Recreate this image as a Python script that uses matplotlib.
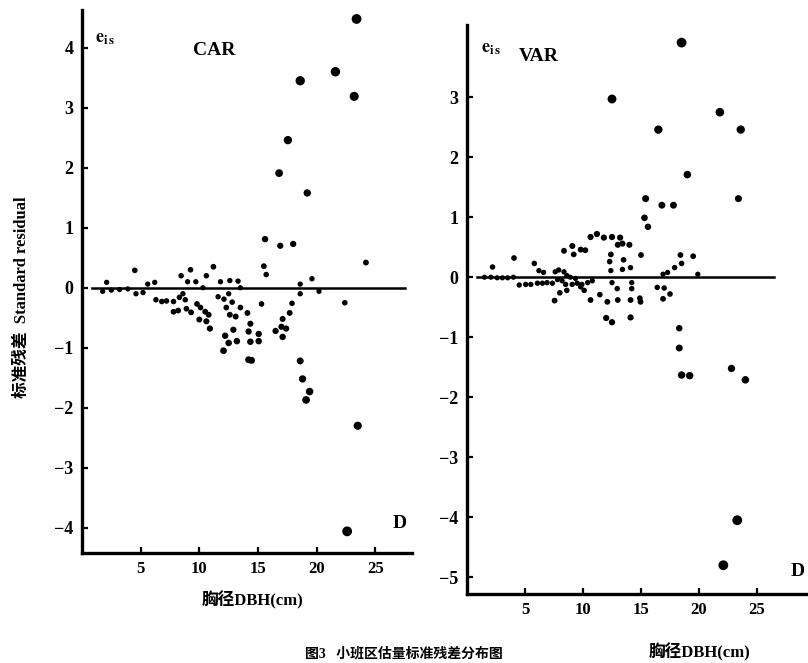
import numpy as np
import matplotlib
matplotlib.use("Agg")
import matplotlib.pyplot as plt

plt.rcParams["mathtext.fontset"] = "stix"

# CAR panel: DBH (cm) vs standard residual
car_x = [23.4, 21.6, 18.6, 23.2, 17.55, 16.8, 19.2, 15.6, 16.9, 18.0, 24.2, 15.5, 15.7,
         4.5, 11.2, 9.25, 8.45, 10.6, 19.6, 18.6, 2.1, 11.8, 12.6, 13.3, 13.5, 9.0, 9.7,
         10.3, 5.6, 6.2, 20.2, 18.6,
         1.76, 2.5, 3.2, 3.9, 4.6, 5.2,
         6.3, 6.8, 7.2, 7.8, 8.3, 8.6, 8.8,
         7.8, 8.2, 8.9, 9.3, 9.8, 10.1, 10.5, 10.8, 10.0, 10.6, 10.9,
         11.6, 12.1, 12.5, 12.8, 12.3, 12.6, 13.1, 13.5, 14.1,
         14.35, 14.2, 15.06, 12.9, 12.2, 12.5, 13.2, 14.35, 15.06, 12.06, 14.2, 14.45,
         15.3, 22.4, 17.9, 17.7, 17.1, 17.0, 17.4, 16.5, 17.1,
         18.6, 18.8, 19.4, 19.1, 23.5, 22.6]
car_y = [4.48, 3.6, 3.45, 3.19, 2.46, 1.91, 1.58, 0.81, 0.70, 0.73, 0.42, 0.36, 0.22,
         0.29, 0.35, 0.30, 0.20, 0.20, 0.15, 0.06, 0.09, 0.10, 0.12, 0.11, 0.0, 0.10, 0.10,
         0.0, 0.06, 0.09, -0.06, -0.10,
         -0.06, -0.04, -0.03, -0.02, -0.10, -0.08,
         -0.20, -0.23, -0.22, -0.23, -0.16, -0.10, -0.20,
         -0.40, -0.38, -0.35, -0.41, -0.27, -0.33, -0.40, -0.45, -0.53, -0.56, -0.68,
         -0.15, -0.19, -0.10, -0.24, -0.33, -0.45, -0.48, -0.33, -0.42,
         -0.60, -0.73, -0.77, -0.70, -0.80, -0.92, -0.89, -0.90, -0.89, -1.05, -1.20, -1.21,
         -0.27, -0.25, -0.26, -0.42, -0.52, -0.65, -0.68, -0.72, -0.82,
         -1.22, -1.52, -1.73, -1.87, -2.30, -4.06]

# VAR panel
var_x = [18.5, 12.5, 21.8, 16.5, 23.6, 19.0, 23.4, 15.4, 16.8, 17.8, 15.3, 15.6,
         8.36, 9.08, 9.2, 9.8, 10.2,
         10.65, 11.2, 11.8, 12.5, 13.2, 13.4, 14.0,
         12.4, 12.3, 13.5, 12.4, 13.4, 14.1, 15.0, 13.0,
         4.05, 2.2, 5.8,
         18.4, 19.5, 18.5, 17.9, 17.3, 16.9, 19.9,
         1.5, 2.05, 2.6, 3.05, 3.5, 4.0,
         4.5, 5.06, 5.5, 6.07, 6.5, 6.9, 7.36,
         6.2, 6.6,
         7.6, 7.9, 8.36, 8.6, 8.9, 9.35, 7.8, 8.2, 8.5, 9.07, 9.5, 9.9, 10.4, 10.8, 10.1, 9.8,
         7.55, 8.0, 8.6,
         10.65, 11.45, 12.1, 13.0, 14.1, 14.9, 14.96,
         12.5, 12.95, 14.2, 14.2,
         12.0, 12.5, 14.1,
         16.4, 17.0, 16.9, 17.5,
         18.3, 18.3, 18.5, 19.2, 22.8, 24.0, 23.3, 22.1]
var_y = [3.91, 2.97, 2.75, 2.46, 2.46, 1.71, 1.31, 1.31, 1.20, 1.20, 0.99, 0.84,
         0.44, 0.52, 0.38, 0.46, 0.45,
         0.67, 0.72, 0.66, 0.67, 0.66, 0.56, 0.54,
         0.38, 0.26, 0.29, 0.11, 0.13, 0.16, 0.37, 0.54,
         0.32, 0.17, 0.23,
         0.37, 0.35, 0.23, 0.16, 0.08, 0.05, 0.05,
         0.0, 0.0, -0.01, -0.01, -0.01, 0.0,
         -0.13, -0.12, -0.12, -0.10, -0.10, -0.09, -0.10,
         0.11, 0.08,
         0.09, 0.12, 0.09, 0.03, 0.0, -0.02, -0.04, -0.06, -0.12, -0.12, -0.10, -0.12, -0.09, -0.06, -0.22, -0.16,
         -0.39, -0.26, -0.22,
         -0.38, -0.29, -0.41, -0.38, -0.38, -0.35, -0.41,
         -0.09, -0.19, -0.19, -0.09,
         -0.68, -0.75, -0.67,
         -0.17, -0.18, -0.36, -0.28,
         -0.85, -1.18, -1.63, -1.64, -1.52, -1.71, -4.05, -4.80]

car_yticks = [-4, -3, -2, -1, 0, 1, 2, 3, 4]
var_yticks = [-5, -4, -3, -2, -1, 0, 1, 2, 3]
xticks = [5, 10, 15, 20, 25]

SERIF = ["Liberation Serif", "DejaVu Serif"]
CJK = ["Liberation Serif", "Noto Sans CJK SC"]


def tick_label(v):
    return str(v) if v >= 0 else "\u2212" + str(-v)


def setup(ax, xs, ys, yticks, xlim, ylim, zero_end):
    xs, ys = np.array(xs), np.array(ys)
    ax.scatter(xs, ys, s=np.clip(14 + 9 * np.abs(ys), 14, 50),
               color="black", linewidths=0, zorder=3)
    ax.axhline(0, xmin=0.03, xmax=zero_end, color="black", lw=1.8)
    ax.set_xlim(*xlim)
    ax.set_ylim(*ylim)
    for s in ("top", "right"):
        ax.spines[s].set_visible(False)
    for s in ("left", "bottom"):
        ax.spines[s].set_linewidth(2.4)
    ax.set_xticks(xticks)
    ax.set_xticklabels([str(t) for t in xticks], fontfamily=SERIF,
                       fontsize=12, fontweight="bold")
    ax.set_yticks(yticks)
    ax.set_yticklabels([tick_label(t) for t in yticks], fontfamily=SERIF,
                       fontsize=13, fontweight="bold")
    ax.tick_params(direction="in", length=4, width=1.6, pad=6)


fig = plt.figure(figsize=(8.08, 6.63), dpi=100)

ax1 = fig.add_axes([0.1015, 0.166, 0.408, 0.819])
setup(ax1, car_x, car_y, car_yticks, (0, 28.1), (-4.42, 4.63), 0.98)
ax1.text(0.04, 0.965, r"$\mathbf{e_{i\,s}}$", transform=ax1.transAxes,
         fontsize=13, va="top")
ax1.text(0.40, 0.925, "CAR", transform=ax1.transAxes, fontsize=14,
         fontweight="bold", ha="center", va="center", fontfamily=SERIF)
ax1.text(0.965, 0.055, "D", transform=ax1.transAxes, fontsize=14,
         fontweight="bold", ha="center", va="center", fontfamily=SERIF)

ax2 = fig.add_axes([0.578, 0.104, 0.422, 0.858])
setup(ax2, var_x, var_y, var_yticks, (0, 29.4), (-5.28, 4.2), 0.9)
ax2.text(0.04, 0.975, r"$\mathbf{e_{i\,s}}$", transform=ax2.transAxes,
         fontsize=13, va="top")
ax2.text(0.21, 0.945, "VAR", transform=ax2.transAxes, fontsize=14,
         fontweight="bold", ha="center", va="center", fontfamily=SERIF)
ax2.text(0.97, 0.04, "D", transform=ax2.transAxes, fontsize=14,
         fontweight="bold", ha="center", va="center", fontfamily=SERIF)

fig.text(0.313, 0.095, "胸径DBH(cm)", ha="center", va="center",
         fontsize=12, fontweight="bold", family=CJK)
fig.text(0.866, 0.017, "胸径DBH(cm)", ha="center", va="center",
         fontsize=12, fontweight="bold", family=CJK)
fig.text(0.027, 0.552, "标准残差  Standard residual", rotation=90,
         ha="center", va="center", fontsize=12, fontweight="bold", family=CJK)
fig.text(0.50, 0.004, "图3   小班区估量标准残差分布图", ha="center", va="bottom",
         fontsize=10, fontweight="bold", family=CJK)

fig.savefig("out.png", dpi=100)
